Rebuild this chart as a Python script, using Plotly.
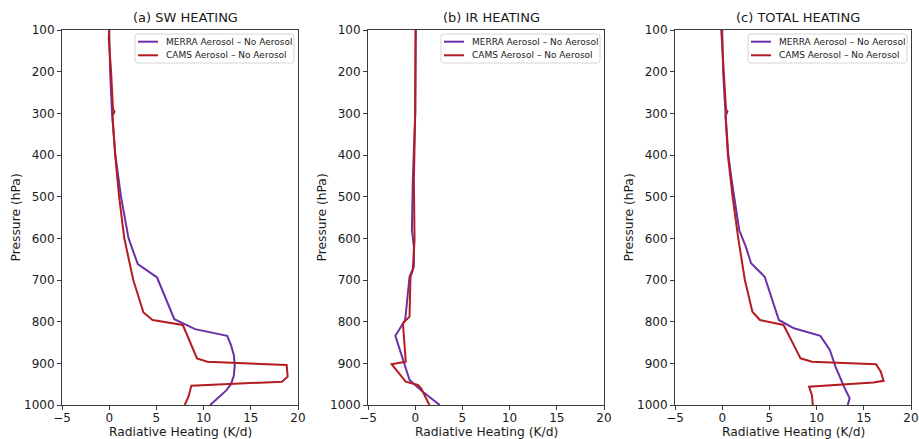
import plotly.graph_objects as go

# ---- Heating-rate differences (aerosol minus no-aerosol), K/d ----
# Shortwave
sw_merra_p = [100, 200, 300, 400, 500, 600, 662, 694, 794, 818, 834, 856, 880, 905, 930, 950, 965, 980, 1000]
sw_merra_x = [0.0, 0.1, 0.3, 0.65, 1.25, 2.05, 3.03, 5.07, 6.9, 9.1, 12.5, 12.9, 13.2, 13.3, 13.2, 12.9, 12.4, 11.7, 10.7]
sw_cams_p = [100, 120, 200, 290, 296, 306, 400, 500, 600, 700, 778, 796, 808, 888, 896, 904, 932, 944, 954, 980, 1000]
sw_cams_x = [0.0, -0.05, 0.2, 0.4, 0.56, 0.35, 0.63, 1.05, 1.6, 2.55, 3.63, 4.6, 7.8, 9.3, 10.4, 18.8, 18.9, 18.3, 8.7, 8.4, 8.0]

# Longwave (infrared)
ir_merra_p = [100, 300, 460, 580, 620, 668, 692, 796, 834, 892, 940, 968, 1000]
ir_merra_x = [0.05, 0.0, -0.25, -0.35, -0.14, -0.14, -0.6, -1.06, -2.1, -1.3, -0.6, 0.8, 2.6]
ir_cams_p = [100, 300, 460, 604, 676, 692, 788, 800, 804, 896, 902, 944, 952, 960, 1000]
ir_cams_x = [0.05, 0.0, -0.14, -0.07, -0.25, -0.5, -0.6, -1.1, -1.3, -1.0, -2.5, -1.0, 0.28, 0.63, 1.5]

# Total (SW + IR)
tot_merra_p = [100, 200, 300, 400, 460, 580, 620, 660, 692, 796, 816, 834, 868, 908, 956, 984, 1000]
tot_merra_x = [0.0, 0.1, 0.35, 0.65, 1.0, 1.8, 2.5, 3.06, 4.5, 6.0, 7.6, 10.4, 11.4, 12.0, 12.9, 13.5, 13.3]
tot_cams_p = [100, 200, 290, 296, 306, 400, 500, 600, 700, 776, 796, 808, 888, 896, 902, 920, 942, 946, 956, 976, 1000]
tot_cams_x = [-0.1, 0.2, 0.4, 0.56, 0.35, 0.6, 1.1, 1.7, 2.4, 3.2, 4.0, 6.5, 8.3, 9.5, 16.3, 16.8, 17.1, 16.0, 9.2, 9.5, 9.6]

panel_titles = ["(a) SW HEATING", "(b) IR HEATING", "(c) TOTAL HEATING"]
series_names = ["MERRA Aerosol – No Aerosol", "CAMS Aerosol – No Aerosol"]
x_label = "Radiative Heating (K/d)"
y_label = "Pressure (hPa)"
x_ticks = [-5, 0, 5, 10, 15, 20]
p_ticks = [100, 200, 300, 400, 500, 600, 700, 800, 900, 1000]

MERRA_COLOR = "#6a30a6"
CAMS_COLOR = "#b51c20"
SERIES_COLORS = [MERRA_COLOR, CAMS_COLOR]
FONT = "DejaVu Sans"
TEXT = "#1a1a1a"

W, H = 919, 439
panels = [
    (sw_merra_x, sw_merra_p, sw_cams_x, sw_cams_p),
    (ir_merra_x, ir_merra_p, ir_cams_x, ir_cams_p),
    (tot_merra_x, tot_merra_p, tot_cams_x, tot_cams_p),
]
# plot-area pixel extents
x_px = [(62, 298), (368, 604), (675, 911)]
y_top, y_bot = 30, 405


def px(x):
    return x / W


def py(y):
    return 1 - y / H


fig = go.Figure()
layout = dict(
    width=W, height=H,
    margin=dict(l=0, r=0, t=0, b=0),
    paper_bgcolor="white", plot_bgcolor="white",
    font=dict(family=FONT, size=12, color=TEXT),
    showlegend=False,
)
annotations = []
shapes = []

for i, (mx, mp, cx, cp) in enumerate(panels):
    n = "" if i == 0 else str(i + 1)
    xa, ya = "x" + n, "y" + n
    fig.add_trace(go.Scatter(x=mx, y=mp, mode="lines", name=series_names[0],
                             line=dict(color=MERRA_COLOR, width=2),
                             xaxis=xa, yaxis=ya))
    fig.add_trace(go.Scatter(x=cx, y=cp, mode="lines", name=series_names[1],
                             line=dict(color=CAMS_COLOR, width=2),
                             xaxis=xa, yaxis=ya))
    x0, x1 = x_px[i]
    axis_common = dict(showline=True, linecolor="#3a3a3a", linewidth=1, mirror=True,
                       ticks="outside", ticklen=4, tickcolor="#3a3a3a", showgrid=False,
                       zeroline=False, automargin=False,
                       tickfont=dict(family=FONT, size=12, color=TEXT))
    layout["xaxis" + n] = dict(
        domain=[px(x0), px(x1)], range=[-5, 20], tickvals=x_ticks,
        anchor=ya, ticklabelstandoff=-2, **axis_common)
    layout["yaxis" + n] = dict(
        domain=[py(y_bot), py(y_top)], range=[1000, 100], tickvals=p_ticks,
        anchor=xa, **axis_common)

    # panel title and axis labels
    annotations.append(dict(
        text=panel_titles[i], x=px((x0 + x1) / 2 + 5), y=py(18),
        xref="paper", yref="paper", xanchor="center", yanchor="middle",
        showarrow=False, font=dict(family=FONT, size=13, color=TEXT)))
    annotations.append(dict(
        text=x_label, x=px((x0 + x1) / 2), y=py(432),
        xref="paper", yref="paper", xanchor="center", yanchor="middle",
        showarrow=False, font=dict(family=FONT, size=12.3, color=TEXT)))
    annotations.append(dict(
        text=y_label, x=px(x0 - 47), y=py((y_top + y_bot) / 2), textangle=-90,
        xref="paper", yref="paper", xanchor="center", yanchor="middle",
        showarrow=False, font=dict(family=FONT, size=12.3, color=TEXT)))

    # legend box in the upper-right corner of each panel
    bx0, bx1, by0, by1, r = x1 - 163, x1 - 4, 34, 63, 3
    path = (f"M {px(bx0 + r)} {py(by0)} L {px(bx1 - r)} {py(by0)} "
            f"Q {px(bx1)} {py(by0)} {px(bx1)} {py(by0 + r)} "
            f"L {px(bx1)} {py(by1 - r)} Q {px(bx1)} {py(by1)} {px(bx1 - r)} {py(by1)} "
            f"L {px(bx0 + r)} {py(by1)} Q {px(bx0)} {py(by1)} {px(bx0)} {py(by1 - r)} "
            f"L {px(bx0)} {py(by0 + r)} Q {px(bx0)} {py(by0)} {px(bx0 + r)} {py(by0)} Z")
    shapes.append(dict(type="path", path=path, xref="paper", yref="paper",
                       fillcolor="rgba(255,255,255,0.8)", line=dict(color="#d6d6d6", width=1)))
    for k, yy in enumerate([41.7, 55.3]):
        shapes.append(dict(type="line", xref="paper", yref="paper",
                           x0=px(x1 - 160), x1=px(x1 - 140), y0=py(yy), y1=py(yy),
                           line=dict(color=SERIES_COLORS[k], width=2)))
        annotations.append(dict(
            text=series_names[k], x=px(x1 - 134), y=py(yy),
            xref="paper", yref="paper", xanchor="left", yanchor="middle",
            showarrow=False, font=dict(family=FONT, size=9, color=TEXT)))

layout["annotations"] = annotations
layout["shapes"] = shapes
fig.update_layout(**layout)
fig.write_html("out.html")
